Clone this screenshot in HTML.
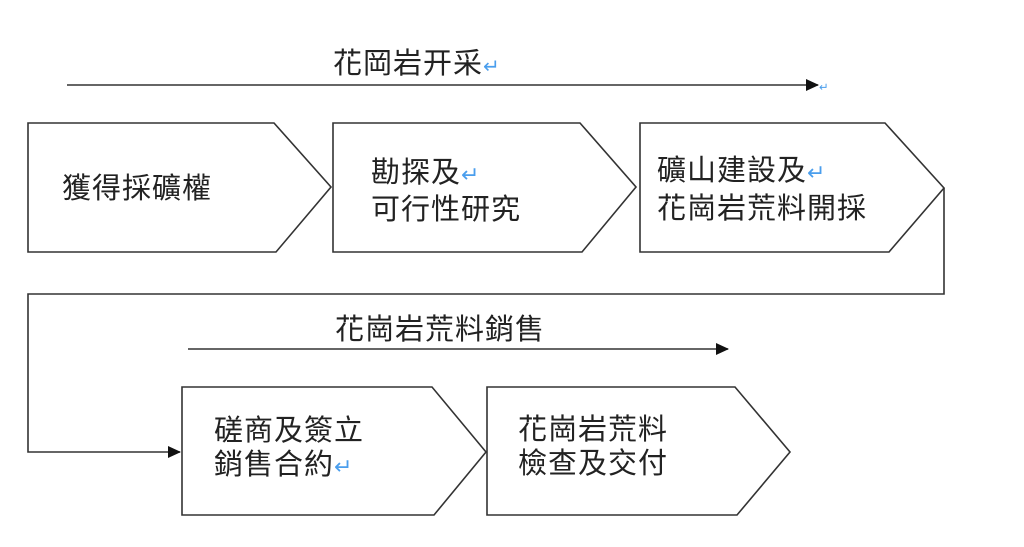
<!DOCTYPE html>
<html><head><meta charset="utf-8"><style>
html,body{margin:0;padding:0;background:#fff;}
svg{display:block;}
text{font-family:"Liberation Sans","Noto Sans CJK TC",sans-serif;fill:#222;font-size:29px;letter-spacing:1px;}
.r{fill:#4a9eed;}
</style></head><body>
<svg width="1024" height="547" viewBox="0 0 1024 547" xmlns="http://www.w3.org/2000/svg">
<defs><marker id="a" markerWidth="13" markerHeight="12" refX="12" refY="6" orient="auto" markerUnits="userSpaceOnUse"><path d="M0,0 L13,6 L0,12 z" fill="#111"/></marker></defs>
<g fill="none" stroke="#333" stroke-width="1.6">
<line x1="67" y1="85" x2="818" y2="85" marker-end="url(#a)"/>
<polygon points="28,123 274,123 331,187 276,252 28,252" fill="#fff"/>
<polygon points="333,123 580,123 636,187 582,252 333,252" fill="#fff"/>
<polygon points="640,123 885,123 944,188 889,252 640,252" fill="#fff"/>
<polyline points="944,188 944,294 28,294 28,452 180,452" marker-end="url(#a)"/>
<line x1="188" y1="349" x2="728" y2="349" marker-end="url(#a)"/>
<polygon points="182,387 432,387 486,452 434,515 182,515" fill="#fff"/>
<polygon points="487,387 735,387 790,452 737,515 487,515" fill="#fff"/>
</g>
<text x="333" y="73">花岡岩开采<tspan class="r" font-size="20">↵</tspan></text>
<g transform="translate(819,91) scale(0.4)"><text class="r" font-size="20">↵</text></g>
<text x="62" y="198">獲得採礦權</text>
<text x="371" y="182">勘探及<tspan class="r" font-size="22">↵</tspan></text>
<text x="371" y="219">可行性研究</text>
<text x="657" y="180">礦山建設及<tspan class="r" font-size="22">↵</tspan></text>
<text x="657" y="218">花崗岩荒料開採</text>
<text x="335" y="339">花崗岩荒料銷售</text>
<text x="214" y="440">磋商及簽立</text>
<text x="214" y="474">銷售合約<tspan class="r" font-size="22">↵</tspan></text>
<text x="518" y="439">花崗岩荒料</text>
<text x="518" y="473">檢查及交付</text>
</svg>
</body></html>
